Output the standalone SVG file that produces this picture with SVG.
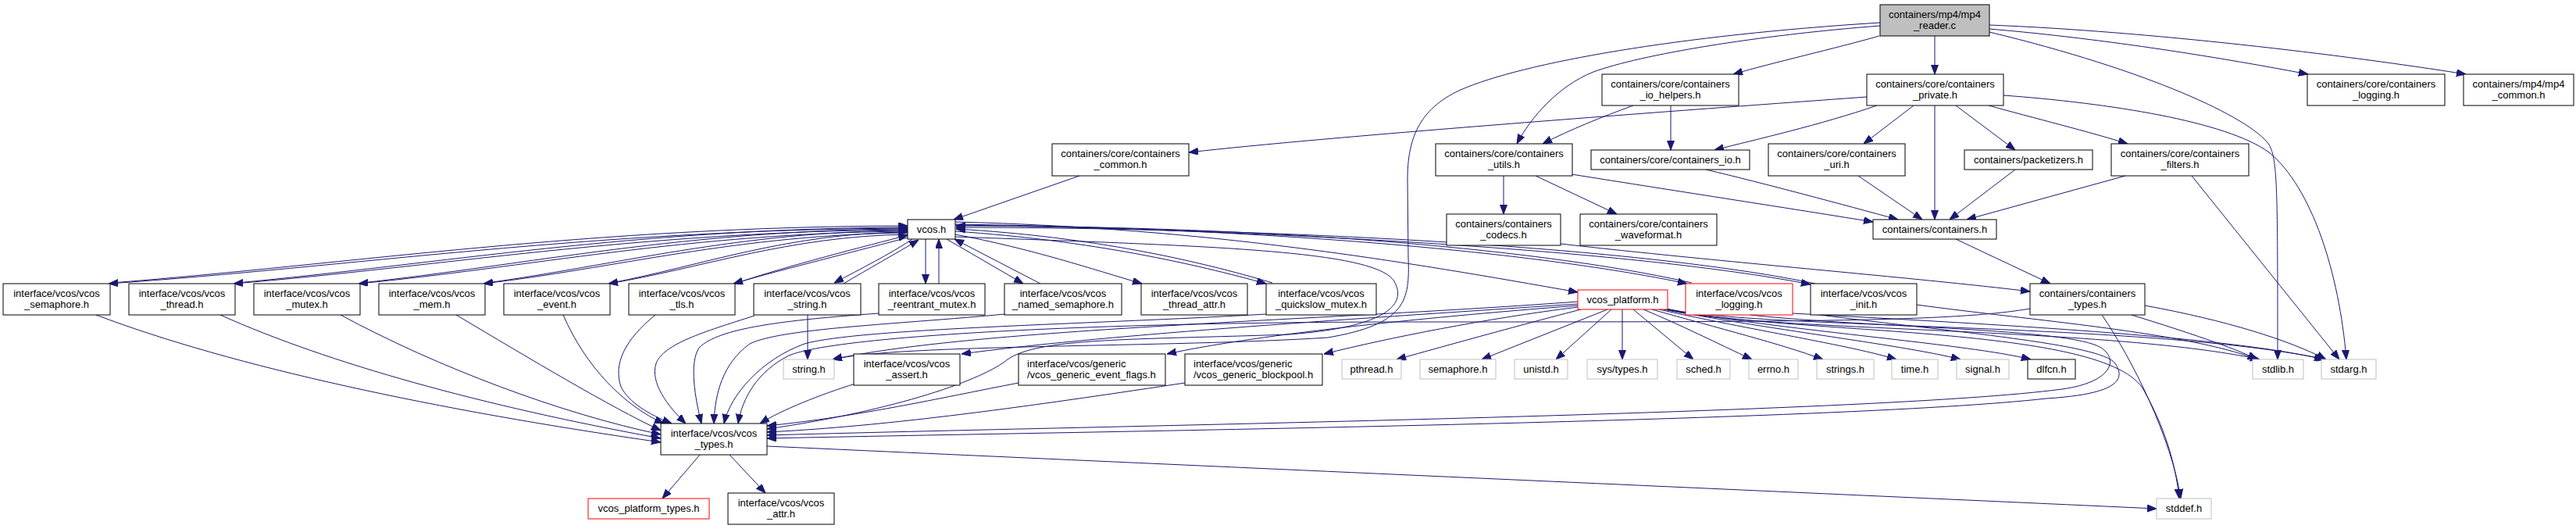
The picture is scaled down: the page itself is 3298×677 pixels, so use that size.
<svg xmlns="http://www.w3.org/2000/svg" width="3298" height="677" viewBox="0 0 3298 677">
<defs>
<style>
.n rect{fill:#fff;stroke:#000;stroke-width:1}
.g rect{stroke:#bfbfbf}
.r rect{stroke:#ff0000}
.root rect{fill:#bfbfbf}
text{font-family:"Liberation Sans",Arial,Helvetica,sans-serif;font-size:13px;fill:#000;text-anchor:middle}
.l text{text-anchor:start}
#edges path{fill:none;stroke:#191970;stroke-width:1;marker-end:url(#a)}
</style>
<marker id="a" markerWidth="12" markerHeight="10" refX="12" refY="4.5" orient="auto" markerUnits="userSpaceOnUse"><path d="M0,0 L12,4.5 L0,9 z" fill="#191970" stroke="#191970" stroke-width="1"/></marker>
</defs>
<rect x="0" y="0" width="3298" height="677" fill="#fff"/>
<g id="edges">
<path d="M2477,46 L2477,95"/>
<path d="M2406,46 C2350,62 2270,80 2219,95"/>
<path d="M2407,33 C2250,45 2100,70 2040,92 C1995,110 1960,150 1942,184"/>
<path d="M2407,29 C2150,45 1950,80 1870,115 C1815,140 1802,180 1802,230 L1803,330 C1805,385 1800,415 1700,432 C1500,445 1150,440 1066,460"/>
<path d="M2547,37 C2700,50 2850,75 2955,95"/>
<path d="M2547,32 C2750,40 3000,70 3157,95"/>
<path d="M2547,41 C2750,90 2880,150 2905,185 C2916,205 2916,240 2916,460"/>
<path d="M2390,124 C2100,145 1700,175 1522,195"/>
<path d="M2403,135 C2330,160 2250,178 2195,192"/>
<path d="M2450,135 L2386,184"/>
<path d="M2477,135 L2477,281"/>
<path d="M2504,135 L2580,192"/>
<path d="M2546,135 C2600,150 2680,170 2724,184"/>
<path d="M2565,122 C2700,132 2850,155 2905,195 C2960,240 2995,350 3004,460"/>
<path d="M2091,135 C2050,150 2010,166 1975,184"/>
<path d="M2139,135 L2139,192"/>
<path d="M1382,225 L1221,281"/>
<path d="M1925,225 L1925,274"/>
<path d="M1966,225 L2070,274"/>
<path d="M2012,223 C2150,245 2300,268 2398,284"/>
<path d="M2184,217 C2260,235 2360,262 2430,281"/>
<path d="M2379,225 L2461,281"/>
<path d="M2580,217 L2496,281"/>
<path d="M2721,225 L2518,281"/>
<path d="M2806,225 L2995,460"/>
<path d="M2504,306 L2625,363"/>
<path d="M1998,312 C2200,335 2450,355 2599,373"/>
<path d="M2729,403 C2800,425 2860,445 2890,460"/>
<path d="M2746,391 C2850,410 2930,435 2978,460"/>
<path d="M2691,403 C2730,460 2780,560 2792,638"/>
<path d="M2599,395 C2500,412 2300,412 1800,412 C1400,412 1070,430 1010,455 C970,475 950,510 945,542"/>
<path d="M1162,292 C754,294 447,342 139,363"/>
<path d="M143,362 C450,338 754,290 1162,289"/>
<path d="M1162,294 C818,296 559,342 299,363"/>
<path d="M303,362 C562,338 818,292 1162,291"/>
<path d="M1162,296 C882,298 671,343 459,363"/>
<path d="M463,362 C674,339 882,294 1162,293"/>
<path d="M1162,298 C946,300 783,344 619,363"/>
<path d="M623,362 C786,340 946,296 1162,295"/>
<path d="M1162,300 C1010,302 895,344 779,363"/>
<path d="M783,362 C898,340 1010,298 1162,297"/>
<path d="M1162,304 C1110,318 1000,345 939,363"/>
<path d="M944,362 C1005,341 1112,314 1162,301"/>
<path d="M1168,306 C1140,325 1100,345 1068,362"/>
<path d="M1080,363 C1110,345 1148,324 1176,307"/>
<path d="M1185,306 L1185,363"/>
<path d="M1202,363 L1202,306"/>
<path d="M1212,306 L1310,363"/>
<path d="M1332,363 L1222,306"/>
<path d="M1223,300 C1320,318 1400,345 1462,363"/>
<path d="M1223,296 C1400,308 1530,338 1621,363"/>
<path d="M1629,362 C1535,334 1400,303 1224,293"/>
<path d="M1223,284 C1550,292 1800,335 2020,374"/>
<path d="M1223,287 C1650,293 1980,325 2160,363"/>
<path d="M2166,362 C1985,321 1650,289 1224,289"/>
<path d="M1223,288 C1700,296 2120,325 2318,364"/>
<path d="M2324,363 C2125,321 1700,292 1224,291"/>
<path d="M1223,303 C1550,315 1760,320 1785,360 C1805,395 1760,420 1650,428 C1450,435 1330,432 1290,460 C1260,485 1150,525 982,549"/>
<path d="M1034,403 L1034,460"/>
<path d="M2020,386 C1700,410 1250,420 1066,460"/>
<path d="M2020,389 C1700,410 1400,430 1231,453"/>
<path d="M2020,391 C1800,408 1600,430 1494,453"/>
<path d="M2020,393 C1900,408 1780,432 1695,453"/>
<path d="M2024,396 C1950,415 1860,440 1788,460"/>
<path d="M2058,396 L1897,460"/>
<path d="M2063,396 L1992,460"/>
<path d="M2077,396 L2077,460"/>
<path d="M2091,396 L2168,460"/>
<path d="M2104,396 C2150,415 2200,440 2243,460"/>
<path d="M2115,396 C2200,420 2280,440 2334,460"/>
<path d="M2124,396 C2240,422 2370,442 2428,460"/>
<path d="M2130,396 C2280,424 2440,442 2510,460"/>
<path d="M2133,396 C2300,425 2520,440 2600,460"/>
<path d="M2132,396 C2250,425 2700,418 2893,460"/>
<path d="M2134,395 C2250,422 2750,412 2978,460"/>
<path d="M2135,396 C2300,430 2700,415 2745,500 C2770,545 2785,590 2790,638"/>
<path d="M2295,401 C2550,415 2850,430 2975,460"/>
<path d="M2454,390 C2600,410 2800,425 2890,460"/>
<path d="M2240,403 C2400,420 2650,420 2690,445 C2715,462 2700,490 2640,498 C2400,530 1400,545 982,557"/>
<path d="M2330,403 C2500,425 2690,440 2708,465 C2725,490 2700,505 2620,510 C2350,540 1400,552 982,561"/>
<path d="M123,403 C300,470 560,525 846,566"/>
<path d="M282,403 C420,465 620,520 846,561"/>
<path d="M436,403 C560,470 720,530 846,556"/>
<path d="M584,403 C680,460 780,520 846,551"/>
<path d="M721,403 C750,470 800,520 850,542"/>
<path d="M839,403 C800,435 785,465 795,495 C805,515 830,530 860,542"/>
<path d="M966,404 C900,425 850,440 840,465 C832,490 855,520 878,542"/>
<path d="M1125,401 C1000,410 920,420 895,445 C882,465 890,510 898,542"/>
<path d="M1286,402 C1150,415 1000,420 960,440 C925,465 915,505 914,542"/>
<path d="M1621,402 C1400,415 1100,420 1030,440 C975,460 935,505 927,542"/>
<path d="M1095,491 C1050,505 1000,525 973,542"/>
<path d="M1304,490 C1200,510 1100,533 982,545"/>
<path d="M1517,490 C1350,515 1150,545 982,553"/>
<path d="M896,582 L848,638"/>
<path d="M934,582 L980,631"/>
<path d="M982,571 C1400,590 2300,630 2761,651"/>
</g>
<g id="n0" class="n root"><rect x="2407" y="6" width="140" height="40"/><text x="2477" y="22.5">containers/mp4/mp4</text><text x="2477" y="37">_reader.c</text></g>
<g id="n1" class="n"><rect x="2051" y="95" width="175" height="40"/><text x="2138.5" y="111.5">containers/core/containers</text><text x="2138.5" y="126">_io_helpers.h</text></g>
<g id="n2" class="n"><rect x="2390" y="95" width="175" height="40"/><text x="2477.5" y="111.5">containers/core/containers</text><text x="2477.5" y="126">_private.h</text></g>
<g id="n3" class="n"><rect x="2954" y="95" width="176" height="40"/><text x="3042" y="111.5">containers/core/containers</text><text x="3042" y="126">_logging.h</text></g>
<g id="n4" class="n"><rect x="3154" y="95" width="141" height="40"/><text x="3224.5" y="111.5">containers/mp4/mp4</text><text x="3224.5" y="126">_common.h</text></g>
<g id="n5" class="n"><rect x="1347" y="184" width="175" height="41"/><text x="1434.5" y="200.5">containers/core/containers</text><text x="1434.5" y="215">_common.h</text></g>
<g id="n6" class="n"><rect x="1838" y="184" width="175" height="41"/><text x="1925.5" y="200.5">containers/core/containers</text><text x="1925.5" y="215">_utils.h</text></g>
<g id="n7" class="n"><rect x="2037" y="192" width="203" height="25"/><text x="2138.5" y="209">containers/core/containers_io.h</text></g>
<g id="n8" class="n"><rect x="2264" y="184" width="175" height="41"/><text x="2351.5" y="200.5">containers/core/containers</text><text x="2351.5" y="215">_uri.h</text></g>
<g id="n9" class="n"><rect x="2515" y="192" width="164" height="25"/><text x="2597" y="209">containers/packetizers.h</text></g>
<g id="n10" class="n"><rect x="2703" y="184" width="176" height="41"/><text x="2791" y="200.5">containers/core/containers</text><text x="2791" y="215">_filters.h</text></g>
<g id="n11" class="n"><rect x="1162" y="281" width="61" height="25"/><text x="1192.5" y="298">vcos.h</text></g>
<g id="n12" class="n"><rect x="1852" y="274" width="146" height="40"/><text x="1925" y="290.5">containers/containers</text><text x="1925" y="305">_codecs.h</text></g>
<g id="n13" class="n"><rect x="2023" y="274" width="175" height="40"/><text x="2110.5" y="290.5">containers/core/containers</text><text x="2110.5" y="305">_waveformat.h</text></g>
<g id="n14" class="n"><rect x="2398" y="281" width="158" height="25"/><text x="2477" y="298">containers/containers.h</text></g>
<g id="n15" class="n"><rect x="4" y="363" width="137" height="40"/><text x="72.5" y="379.5">interface/vcos/vcos</text><text x="72.5" y="394">_semaphore.h</text></g>
<g id="n16" class="n"><rect x="165" y="363" width="136" height="40"/><text x="233" y="379.5">interface/vcos/vcos</text><text x="233" y="394">_thread.h</text></g>
<g id="n17" class="n"><rect x="325" y="363" width="136" height="40"/><text x="393" y="379.5">interface/vcos/vcos</text><text x="393" y="394">_mutex.h</text></g>
<g id="n18" class="n"><rect x="485" y="363" width="136" height="40"/><text x="553" y="379.5">interface/vcos/vcos</text><text x="553" y="394">_mem.h</text></g>
<g id="n19" class="n"><rect x="645" y="363" width="136" height="40"/><text x="713" y="379.5">interface/vcos/vcos</text><text x="713" y="394">_event.h</text></g>
<g id="n20" class="n"><rect x="805" y="363" width="136" height="40"/><text x="873" y="379.5">interface/vcos/vcos</text><text x="873" y="394">_tls.h</text></g>
<g id="n21" class="n"><rect x="965" y="363" width="137" height="40"/><text x="1033.5" y="379.5">interface/vcos/vcos</text><text x="1033.5" y="394">_string.h</text></g>
<g id="n22" class="n"><rect x="1125" y="363" width="136" height="40"/><text x="1193" y="379.5">interface/vcos/vcos</text><text x="1193" y="394">_reentrant_mutex.h</text></g>
<g id="n23" class="n"><rect x="1286" y="363" width="150" height="40"/><text x="1361" y="379.5">interface/vcos/vcos</text><text x="1361" y="394">_named_semaphore.h</text></g>
<g id="n24" class="n"><rect x="1461" y="363" width="136" height="40"/><text x="1529" y="379.5">interface/vcos/vcos</text><text x="1529" y="394">_thread_attr.h</text></g>
<g id="n25" class="n"><rect x="1621" y="363" width="141" height="40"/><text x="1691.5" y="379.5">interface/vcos/vcos</text><text x="1691.5" y="394">_quickslow_mutex.h</text></g>
<g id="n26" class="n r"><rect x="2020" y="371" width="115" height="25"/><text x="2077.5" y="388">vcos_platform.h</text></g>
<g id="n27" class="n r"><rect x="2158" y="363" width="137" height="40"/><text x="2226.5" y="379.5">interface/vcos/vcos</text><text x="2226.5" y="394">_logging.h</text></g>
<g id="n28" class="n"><rect x="2318" y="363" width="136" height="40"/><text x="2386" y="379.5">interface/vcos/vcos</text><text x="2386" y="394">_init.h</text></g>
<g id="n29" class="n"><rect x="2599" y="363" width="147" height="40"/><text x="2672.5" y="379.5">containers/containers</text><text x="2672.5" y="394">_types.h</text></g>
<g id="n30" class="n g"><rect x="1003" y="460" width="65" height="25"/><text x="1035.5" y="477">string.h</text></g>
<g id="n31" class="n"><rect x="1093" y="453" width="136" height="40"/><text x="1161" y="469.5">interface/vcos/vcos</text><text x="1161" y="484">_assert.h</text></g>
<g id="n32" class="n l"><rect x="1304" y="453" width="188" height="40"/><text x="1315" y="469.5">interface/vcos/generic</text><text x="1315" y="484">/vcos_generic_event_flags.h</text></g>
<g id="n33" class="n l"><rect x="1517" y="453" width="176" height="40"/><text x="1528" y="469.5">interface/vcos/generic</text><text x="1528" y="484">/vcos_generic_blockpool.h</text></g>
<g id="n34" class="n g"><rect x="1718" y="460" width="76" height="25"/><text x="1756" y="477">pthread.h</text></g>
<g id="n35" class="n g"><rect x="1818" y="460" width="97" height="25"/><text x="1866.5" y="477">semaphore.h</text></g>
<g id="n36" class="n g"><rect x="1939" y="460" width="68" height="25"/><text x="1973" y="477">unistd.h</text></g>
<g id="n37" class="n g"><rect x="2032" y="460" width="90" height="25"/><text x="2077" y="477">sys/types.h</text></g>
<g id="n38" class="n g"><rect x="2147" y="460" width="68" height="25"/><text x="2181" y="477">sched.h</text></g>
<g id="n39" class="n g"><rect x="2239" y="460" width="63" height="25"/><text x="2270.5" y="477">errno.h</text></g>
<g id="n40" class="n g"><rect x="2326" y="460" width="73" height="25"/><text x="2362.5" y="477">strings.h</text></g>
<g id="n41" class="n g"><rect x="2422" y="460" width="59" height="25"/><text x="2451.5" y="477">time.h</text></g>
<g id="n42" class="n g"><rect x="2505" y="460" width="67" height="25"/><text x="2538.5" y="477">signal.h</text></g>
<g id="n43" class="n"><rect x="2596" y="460" width="61" height="25"/><text x="2626.5" y="477">dlfcn.h</text></g>
<g id="n44" class="n g"><rect x="2884" y="460" width="65" height="25"/><text x="2916.5" y="477">stdlib.h</text></g>
<g id="n45" class="n g"><rect x="2972" y="460" width="70" height="25"/><text x="3007" y="477">stdarg.h</text></g>
<g id="n46" class="n"><rect x="846" y="542" width="136" height="40"/><text x="914" y="558.5">interface/vcos/vcos</text><text x="914" y="573">_types.h</text></g>
<g id="n47" class="n r"><rect x="753" y="638" width="155" height="26"/><text x="830.5" y="655">vcos_platform_types.h</text></g>
<g id="n48" class="n"><rect x="932" y="631" width="136" height="40"/><text x="1000" y="647.5">interface/vcos/vcos</text><text x="1000" y="662">_attr.h</text></g>
<g id="n49" class="n g"><rect x="2761" y="638" width="70" height="26"/><text x="2796" y="655">stddef.h</text></g>
</svg>
